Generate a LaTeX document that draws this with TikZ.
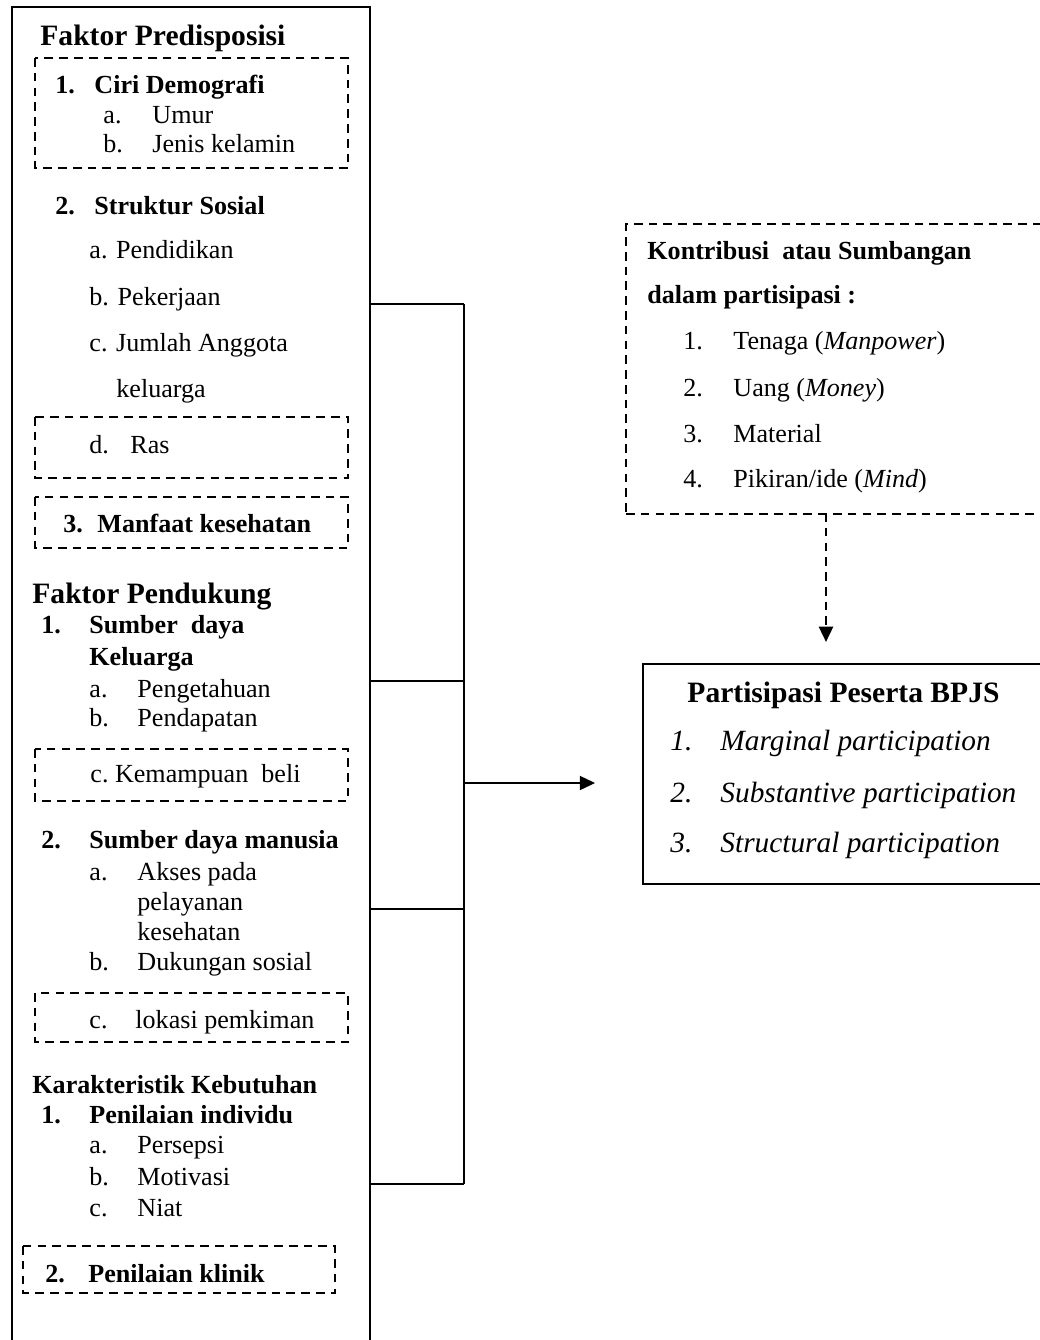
\documentclass[tikz,border=0pt]{standalone}
\usepackage{fontspec}
\setmainfont{Liberation Serif}
\usetikzlibrary{arrows.meta}
\begin{document}
\begin{tikzpicture}[x=0.46pt,y=-0.46pt,
  txt/.style={anchor=base west,inner sep=0pt,font=\fontsize{12}{14}\selectfont},
  bld/.style={txt,font=\fontsize{12}{14}\selectfont\bfseries},
  hdr/.style={txt,font=\fontsize{13.6}{16}\selectfont\bfseries},
  itl/.style={txt,font=\fontsize{13.5}{16}\selectfont\itshape},
  garis/.style={line width=0.7pt},
  putus/.style={line width=0.9pt,dash pattern=on 4pt off 2.8pt},
  panah/.style={-{Triangle[length=7pt,width=6.5pt]}}]
  \useasboundingbox (0,0) rectangle (1040,1340);

  % Kotak utama (terbuka di bawah)
  \draw[line width=0.9pt] (12,1345) -- (12,7) -- (370,7) -- (370,1345);

  % Faktor Predisposisi
  \node[hdr] (fp) at (40,45) {Faktor Predisposisi};
  \draw[putus] (35,58) rectangle (348,168);
  \node[bld] (fp1) at (55,93) {1.};
  \node[bld] (cd) at (94,93) {Ciri Demografi};
  \foreach \i/\yy/\lbl in {a/123/Umur, b/152/Jenis kelamin}{
    \node[txt] (cd\i) at (103,\yy) {\i.};
    \node[txt] (cdt\i) at (152,\yy) {\lbl};
  }
  \node[bld] (fp2) at (55,214) {2.};
  \node[bld] (ss) at (94,214) {Struktur Sosial};
  \foreach \i/\yy/\lbl in {a/258/Pendidikan, b/305/Pekerjaan, c/351/Jumlah Anggota}
    \node[txt] (ss\i) at (89,\yy) {\i. \lbl};
  \node[txt] (ssk) at (116,397) {keluarga};
  \draw[putus] (35,417) rectangle (348,478);
  \node[txt] (ssd) at (89,453) {d.};
  \node[txt] (ras) at (130,453) {Ras};
  \draw[putus] (35,497) rectangle (348,548);
  \node[bld] (fp3) at (63,532) {3.};
  \node[bld] (mk) at (97,532) {Manfaat kesehatan};

  % Faktor Pendukung
  \node[hdr] (fd) at (32,603) {Faktor Pendukung};
  \node[bld] (fd1) at (41,633) {1.};
  \node[bld] (sdk) at (89,633) {Sumber\ \ daya};
  \node[bld] (sdk2) at (89,665) {Keluarga};
  \foreach \i/\yy/\lbl in {a/697/Pengetahuan, b/726/Pendapatan}{
    \node[txt] (sdk\i) at (89,\yy) {\i.};
    \node[txt] (sdkt\i) at (137,\yy) {\lbl};
  }
  \draw[putus] (35,749) rectangle (348,801);
  \node[txt] (kb) at (90,782) {c.\ Kemampuan\ \ beli};
  \node[bld] (fd2) at (41,848) {2.};
  \node[bld] (sdm) at (89,848) {Sumber daya manusia};
  \node[txt] (sdma) at (89,880) {a.};
  \foreach \k/\yy/\lbl in {1/880/Akses pada, 2/910/pelayanan, 3/940/kesehatan}
    \node[txt] (ak\k) at (137,\yy) {\lbl};
  \node[txt] (sdmb) at (89,970) {b.};
  \node[txt] (ds) at (137,970) {Dukungan sosial};
  \draw[putus] (35,993) rectangle (348,1042);
  \node[txt] (sdmc) at (89,1028) {c.};
  \node[txt] (lp) at (135,1028) {lokasi pemkiman};

  % Karakteristik Kebutuhan
  \node[bld] (kk) at (32,1093) {Karakteristik Kebutuhan};
  \node[bld] (kk1) at (41,1123) {1.};
  \node[bld] (pi) at (89,1123) {Penilaian individu};
  \foreach \i/\yy/\lbl in {a/1153/Persepsi, b/1185/Motivasi, c/1216/Niat}{
    \node[txt] (pi\i) at (89,\yy) {\i.};
    \node[txt] (pit\i) at (137,\yy) {\lbl};
  }
  \draw[putus] (23,1246) rectangle (335,1293);
  \node[bld] (kk2) at (45,1282) {2.};
  \node[bld] (pk) at (88,1282) {Penilaian klinik};

  % Kontribusi
  \node[putus,draw,anchor=north west,minimum width=195.5pt,minimum height=133.4pt,inner sep=0pt] (kontri) at (625,223) {};
  \node[bld] (kt1) at (647,259) {Kontribusi\ \ atau Sumbangan};
  \node[bld] (kt2) at (647,303) {dalam partisipasi :};
  \foreach \n/\yy/\lbl in {1/349/{Tenaga (\textit{Manpower})}, 2/396/{Uang (\textit{Money})}, 3/442/Material, 4/487/{Pikiran/ide (\textit{Mind})}}{
    \node[txt] (kn\n) at (683,\yy) {\n.};
    \node[txt] (kl\n) at (733,\yy) {\lbl};
  }

  % Partisipasi
  \node[draw,line width=0.9pt,anchor=north west,minimum width=187.7pt,minimum height=101.2pt,inner sep=0pt] (bpjs) at (642,663) {};
  \node[hdr] (bj) at (687,702) {Partisipasi Peserta BPJS};
  \foreach \n/\yy/\lbl in {1/750/Marginal, 2/802/Substantive, 3/852/Structural}{
    \node[itl] (bn\n) at (670,\yy) {\n.};
    \node[itl] (bl\n) at (720,\yy) {\lbl\ participation};
  }

  % Kurung dan panah
  \foreach \k/\yy in {1/304,2/681,3/909,4/1184}{
    \coordinate (kiri\k) at (370,\yy);
    \coordinate (kanan\k) at (464,\yy);
    \draw[garis] (kiri\k) -- (kanan\k);
  }
  \draw[garis] (kanan1) -- (kanan4);
  \coordinate (tengah) at (464,783);
  \draw[garis,panah,shorten >=21.6pt] (tengah) -- (tengah -| bpjs.west);
  \coordinate (turun) at (826,513);
  \draw[putus,panah,shorten >=9.7pt] (turun) -- (turun |- bpjs.north);
\end{tikzpicture}
\end{document}
